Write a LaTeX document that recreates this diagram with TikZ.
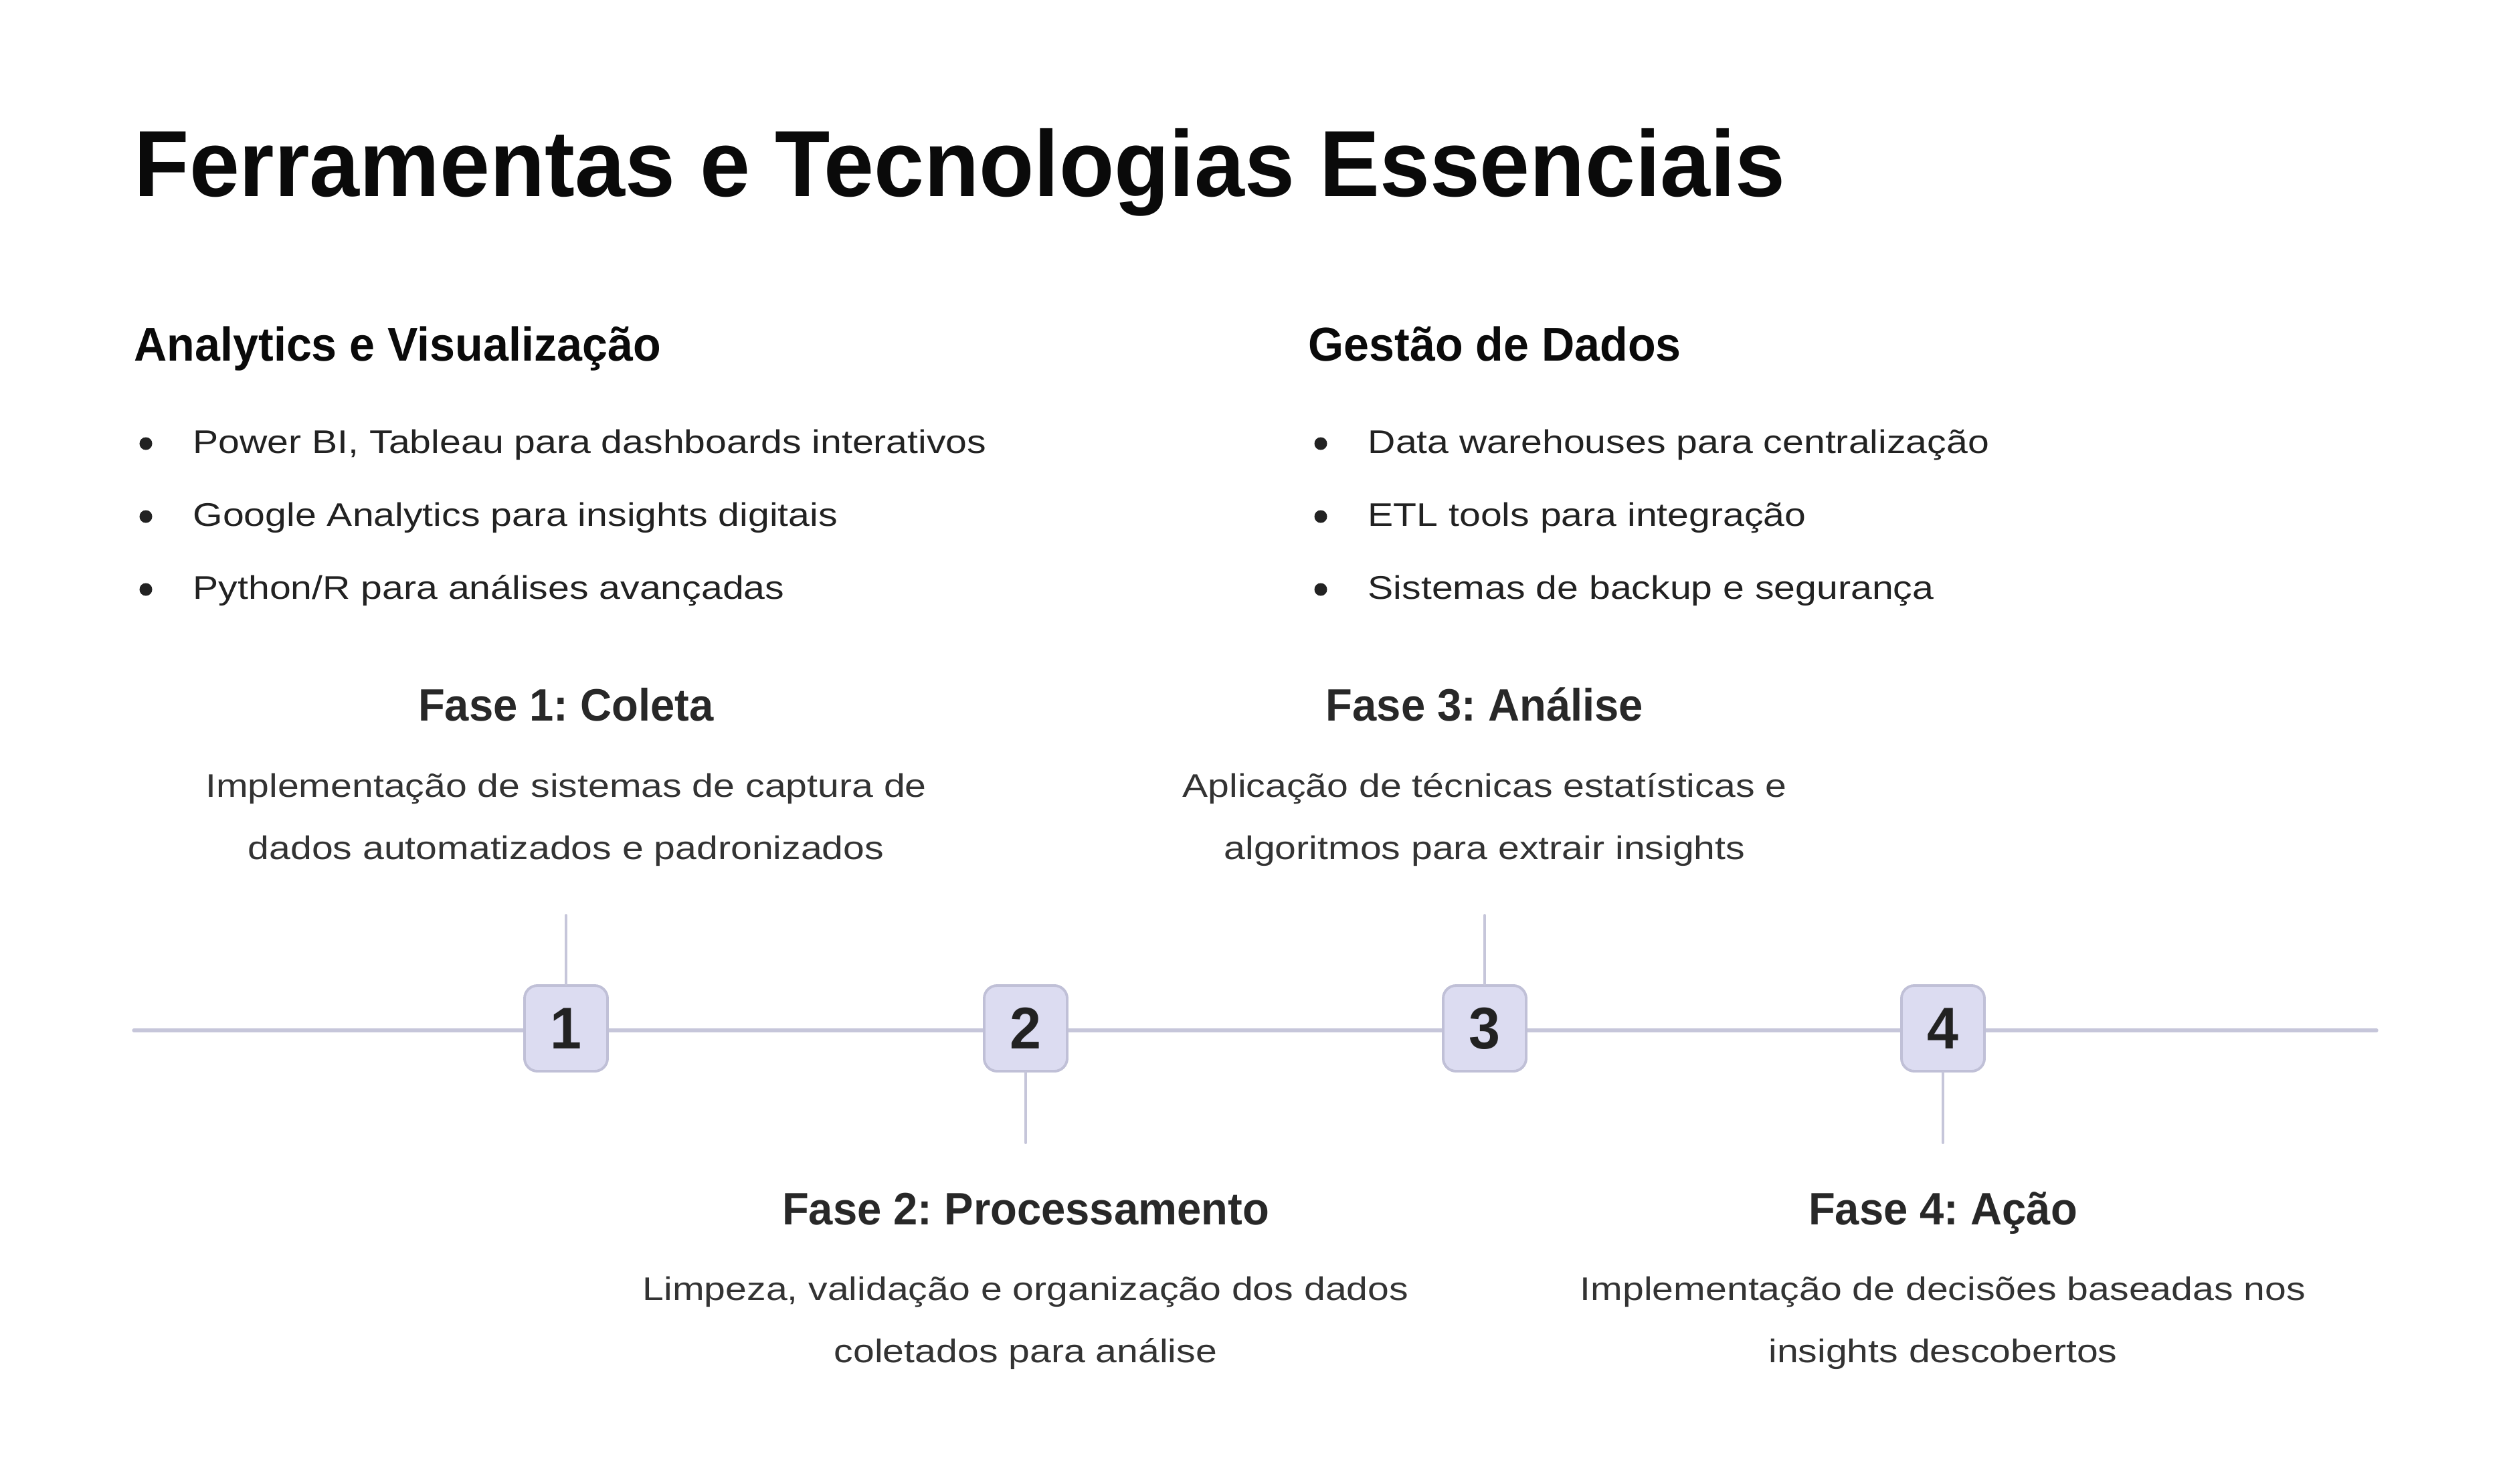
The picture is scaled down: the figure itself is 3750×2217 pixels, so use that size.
\documentclass[tikz,border=0pt]{standalone}
\usepackage{fontspec}
\setmainfont[FakeStretch=1.17]{Liberation Sans}
\newfontfamily\tightsans[FakeStretch=0.96]{Liberation Sans}
\frenchspacing
\usetikzlibrary{positioning}
\definecolor{titleink}{HTML}{0A0A0A}
\definecolor{itemink}{HTML}{222222}
\definecolor{phaseink}{HTML}{282828}
\definecolor{descink}{HTML}{333333}
\definecolor{railcol}{HTML}{C6C6DA}
\definecolor{boxfill}{HTML}{DCDCF1}
\definecolor{boxline}{HTML}{C0C0D7}
\tikzset{
  bigtitle/.style={anchor=base west, inner sep=0pt, text=titleink, font=\tightsans\bfseries\fontsize{39.9}{46}\selectfont},
  heading/.style={anchor=base west, inner sep=0pt, text=titleink, font=\tightsans\bfseries\fontsize{20.2}{24}\selectfont},
  item/.style={anchor=base west, inner sep=0pt, text=itemink, font=\fontsize{13.9}{16}\selectfont},
  dot/.style={circle, fill=itemink, inner sep=0pt, minimum size=0.19cm},
  phase/.style={anchor=base, inner sep=0pt, text=phaseink, font=\tightsans\bfseries\fontsize{19.3}{23}\selectfont},
  phasetext/.style={anchor=base, inner sep=0pt, align=center, text=descink, font=\fontsize{13.9}{26.2}\selectfont},
  stepno/.style={draw=boxline, fill=boxfill, line width=1.1pt, rounded corners=5.5pt, minimum width=1.24cm, minimum height=1.28cm, inner sep=0pt, text=itemink, font=\tightsans\bfseries\fontsize{25}{28}\selectfont},
  rail/.style={draw=railcol, line width=1.5pt, line cap=round},
}
\begin{document}
\begin{tikzpicture}[x=0.01cm,y=-0.01cm]
    \fill[white](0,0)rectangle(3750,2217);
    \useasboundingbox(0,0)rectangle(3750,2217);
    % title and tool lists
    \node[bigtitle](title)at(200,293){Ferramentas e Tecnologias Essenciais};
    \node[heading](hleft)at(200,539){Analytics e Visualização};
    \node[heading](hright)at(1955,539){Gestão de Dados};
    \node[dot](d1)at(218,663){};
    \node[item](i1)at(288,677){Power BI, Tableau para dashboards interativos};
    \node[dot](d2)at(218,772){};
    \node[item](i2)at(288,786){Google Analytics para insights digitais};
    \node[dot](d3)at(218,881){};
    \node[item](i3)at(288,895){Python/R para análises avançadas};
    \node[dot](d4)at(1974,663){};
    \node[item](i4)at(2044,677){Data warehouses para centralização};
    \node[dot](d5)at(1974,772){};
    \node[item](i5)at(2044,786){ETL tools para integração};
    \node[dot](d6)at(1974,881){};
    \node[item](i6)at(2044,895){Sistemas de backup e segurança};
    % timeline
    \coordinate(railstart)at(200,1540);
    \coordinate(railend)at(3552,1540);
    \draw[rail](railstart)--(railend);
    \coordinate(s1)at(846,1368);
    \coordinate(s2)at(1533,1708);
    \coordinate(s3)at(2219,1368);
    \coordinate(s4)at(2904,1708);
    \node[stepno](b1)at(846,1537){1};
    \node[stepno](b2)at(1533,1537){2};
    \node[stepno](b3)at(2219,1537){3};
    \node[stepno](b4)at(2904,1537){4};
    \draw[rail,line width=1.1pt](b1.north)--(s1);
    \draw[rail,line width=1.1pt](b2.south)--(s2);
    \draw[rail,line width=1.1pt](b3.north)--(s3);
    \draw[rail,line width=1.1pt](b4.south)--(s4);
    % phases (base anchor sits on the last line)
    \node[phase](f1)at(846,1077){Fase 1: Coleta};
    \node[phasetext](t1)at(846,1284){Implementação de sistemas de captura de\\dados automatizados e padronizados};
    \node[phase](f3)at(2219,1077){Fase 3: Análise};
    \node[phasetext](t3)at(2219,1284){Aplicação de técnicas estatísticas e\\algoritmos para extrair insights};
    \node[phase](f2)at(1533,1830){Fase 2: Processamento};
    \node[phasetext](t2)at(1533,2036){Limpeza, validação e organização dos dados\\coletados para análise};
    \node[phase](f4)at(2904,1830){Fase 4: Ação};
    \node[phasetext](t4)at(2904,2036){Implementação de decisões baseadas nos\\insights descobertos};
\end{tikzpicture}
\end{document}
